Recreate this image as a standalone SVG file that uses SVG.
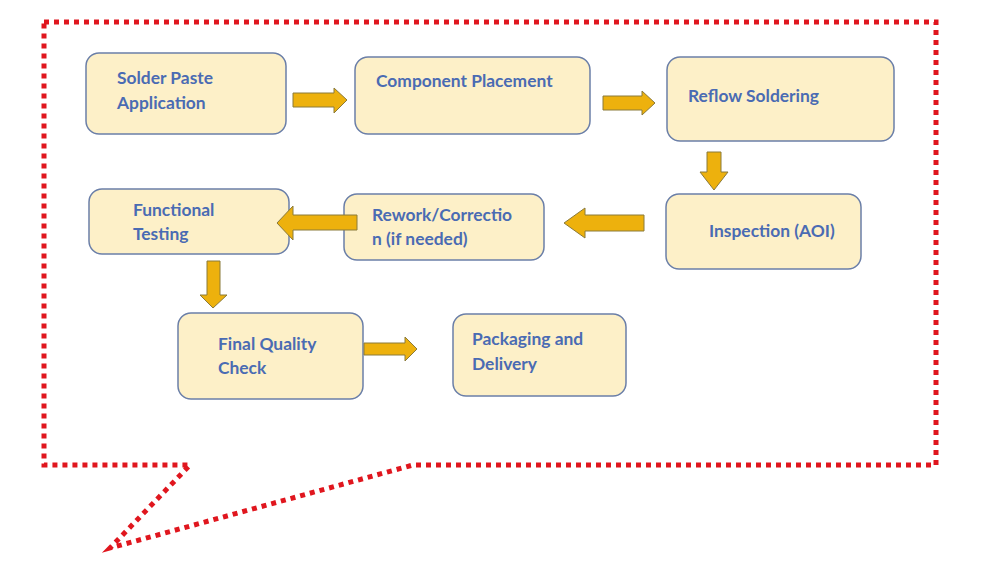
<svg xmlns="http://www.w3.org/2000/svg" width="987" height="584" viewBox="0 0 987 584">
<style>
.box{fill:#fdf0c8;stroke:#6b7fa8;stroke-width:1.5}
.t{font-family:Lato,"Open Sans",sans-serif;font-weight:bold;font-size:17.4px;fill:#4a6bb3}
.arr{fill:#edb10d;stroke:#8a7a3b;stroke-width:1}
.callout{fill:none;stroke:#e0161e;stroke-width:5;stroke-dasharray:5 5}
</style>
<rect width="987" height="584" fill="#ffffff"/>
<path class="callout" d="M44,22 L936,22 L936,465 L413,465 L110,548 L190,465 L44,465 Z"/>
<g id="n1"><rect class="box" x="86" y="53" width="200" height="81" rx="13"/><text class="t" x="117" y="84">Solder Paste</text><text class="t" x="117" y="109">Application</text></g>
<g id="n2"><rect class="box" x="355" y="57" width="235" height="77" rx="13"/><text class="t" x="376" y="87">Component Placement</text></g>
<g id="n3"><rect class="box" x="667" y="57" width="227" height="84" rx="13"/><text class="t" x="688" y="102">Reflow Soldering</text></g>
<g id="n4"><rect class="box" x="666" y="194" width="195" height="75" rx="13"/><text class="t" x="709" y="237">Inspection (AOI)</text></g>
<g id="n5"><rect class="box" x="344" y="194" width="200" height="66" rx="13"/><text class="t" x="372" y="221">Rework/Correctio</text><text class="t" x="372" y="245">n (if needed)</text></g>
<g id="n6"><rect class="box" x="89" y="189" width="200" height="65" rx="13"/><text class="t" x="133" y="216">Functional</text><text class="t" x="133" y="240">Testing</text></g>
<g id="n7"><rect class="box" x="178" y="313" width="185" height="86" rx="13"/><text class="t" x="218" y="350">Final Quality</text><text class="t" x="218" y="374">Check</text></g>
<g id="n8"><rect class="box" x="453" y="314" width="173" height="82" rx="13"/><text class="t" x="472" y="345">Packaging and</text><text class="t" x="472" y="370">Delivery</text></g>
<g id="connectors">
<path class="arr" d="M293,93 L334,93 L334,88 L347,100 L334,113 L334,107 L293,107 Z"/>
<path class="arr" d="M603,96 L642,96 L642,91 L655,103 L642,115 L642,110 L603,110 Z"/>
<path class="arr" d="M707,152 L721,152 L721,172 L728,172 L714,190 L700,172 L707,172 Z"/>
<path class="arr" d="M644,215 L585,215 L585,208 L564,223 L585,238 L585,231 L644,231 Z"/>
<path class="arr" d="M357,215 L293,215 L293,206 L277,223 L293,240 L293,230 L357,230 Z"/>
<path class="arr" d="M207,261 L220,261 L220,295 L227,295 L213,308 L200,295 L207,295 Z"/>
<path class="arr" d="M364,343 L405,343 L405,337 L417,349 L405,361 L405,355 L364,355 Z"/>
</g>
</svg>
